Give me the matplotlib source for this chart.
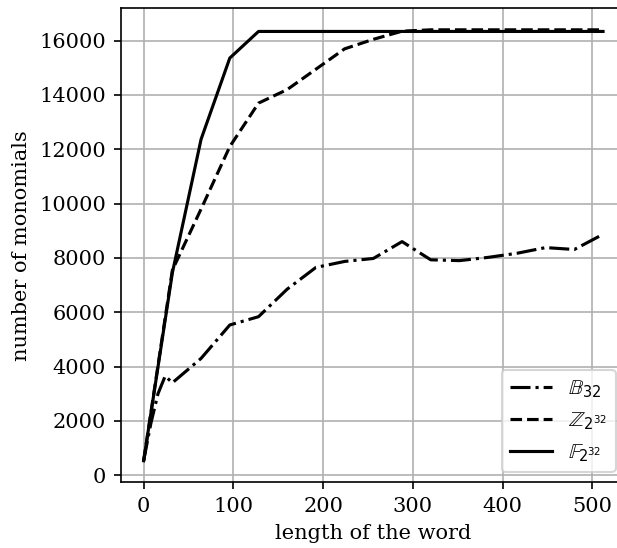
import matplotlib
matplotlib.use('Agg')

import matplotlib.pyplot as plt

plt.rcParams['font.family'] = 'DejaVu Serif'

# word length (fine steps at the start for the B32 run)
x_bool = [0, 8, 16, 24, 32, 64, 96, 128, 160, 192, 224, 256, 288,
          320, 352, 384, 416, 448, 480, 512]
y_bool = [530, 1900, 3000, 3650, 3400, 4300, 5530, 5835, 6850, 7650,
          7870, 7980, 8600, 7930, 7900, 8020, 8170, 8380, 8310, 8870]

x_ring = [0, 32, 64, 96, 128, 160, 192, 224, 256, 288, 320, 352, 384,
          416, 448, 480, 512]
y_zmod = [530, 7550, 9800, 12100, 13700, 14200, 14950, 15700, 16050,
          16350, 16400, 16400, 16400, 16400, 16400, 16400, 16400]
y_field = [530, 7450, 12370, 15360, 16340, 16340, 16340, 16340, 16340,
           16340, 16340, 16340, 16340, 16340, 16340, 16340, 16340]

labels = [r'$\mathbb{B}_{32}$', r'$\mathbb{Z}_{2^{32}}$',
          r'$\mathbb{F}_{2^{32}}$']

fig = plt.figure(figsize=(617 / 150, 548 / 150), dpi=150)
ax = fig.add_axes([0.1956, 0.1199, 0.819, 0.865])

ax.plot(x_bool, y_bool, color='black', linestyle='-.', label=labels[0])
ax.plot(x_ring, y_zmod, color='black', linestyle='--', label=labels[1])
ax.plot(x_ring, y_field, color='black', linestyle='-', label=labels[2])

ax.set_xlabel('length of the word')
ax.set_ylabel('number of monomials')
ax.set_xticks([0, 100, 200, 300, 400, 500])
ax.set_yticks(range(0, 16001, 2000))
ax.grid(True)
ax.legend(loc='lower right')

fig.savefig('out.png', dpi=150)
plt.close(fig)
